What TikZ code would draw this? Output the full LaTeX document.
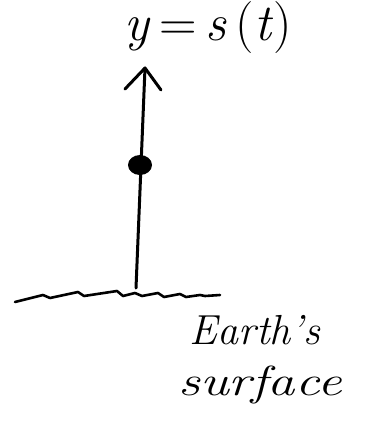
\documentclass[tikz,border=0pt]{standalone}
\usepackage{fontspec}
\usetikzlibrary{shapes.geometric}
\begin{document}
\begin{tikzpicture}[x=1pt,y=-1pt,
  ink/.style={line width=3pt,line cap=round,line join=round,black},
  lbl/.style={inner sep=0pt,font=\fontsize{42}{46}\selectfont\itshape}]
\useasboundingbox (0,0) rectangle (370,424);
% ground
\draw[ink,line width=2.6pt] (15,302) -- (43,295) -- (50,298) -- (78,292) -- (84,296) -- (117,291) -- (123,296) -- (135,293) -- (142,296) -- (158,293) -- (164,297) -- (180,294) -- (186,297) -- (200,295) -- (205,296) -- (220,295);
\coordinate (base) at (136,288);
\coordinate (top) at (145,68);
\coordinate (armL) at (125,89);
\coordinate (armR) at (161,90);
\draw[ink] (base) -- (top);
\draw[ink] (armL) -- (top) -- (armR);
\node[fill=black,ellipse,minimum width=24pt,minimum height=20pt,inner sep=0pt] (dot) at (140,165) {};
\node[inner sep=0pt,font=\fontsize{52}{56}\selectfont] (ylabel) at (208,28) {\textit{y}\,=\,\textit{s}\,(\textit{t})};
\node[lbl] (earth) at (255,330) {Earth's};
\node[lbl,xscale=1.3] (surface) at (260,385) {surface};
\end{tikzpicture}
\end{document}
